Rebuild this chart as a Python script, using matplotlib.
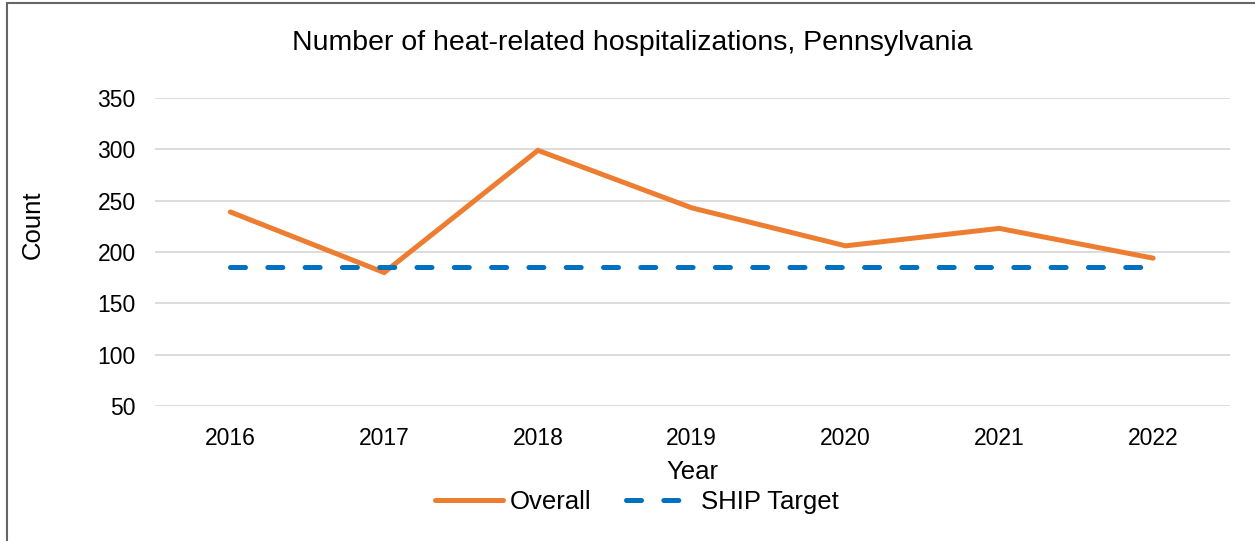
import matplotlib
matplotlib.use('Agg')
import matplotlib.pyplot as plt
from matplotlib.patches import Rectangle

plt.rcParams['font.family'] = ['Liberation Sans', 'DejaVu Sans']

# ------------------------------------------------------

years = ['2016', '2017', '2018', '2019', '2020', '2021', '2022']
overall = [239, 180, 299, 243, 206, 223, 194]
ship_target = [185, 185, 185, 185, 185, 185, 185]

W, H = 1255, 541
fig = plt.figure(figsize=(W / 100, H / 100), dpi=100)
ax = fig.add_axes([155 / W, 1 - 406 / H, 1075 / W, 308 / H])

x = range(len(years))
ax.plot(x, overall, color='#ED7D31', linewidth=3.6, label='Overall',
        solid_capstyle='round', solid_joinstyle='miter')
ax.plot(x, ship_target, color='#0070C0', linewidth=3.6, label='SHIP Target',
        linestyle=(0, (3.0, 4.46)), dash_capstyle='round')

ax.set_xlim(-0.49, len(years) - 0.5)
ax.set_ylim(50, 350)
ax.set_yticks(range(50, 351, 50))
ax.set_xticks(list(x))
ax.set_xticklabels(years)

ax.grid(axis='y', color='#D9D9D9', linewidth=1.3)
ax.set_axisbelow(True)
for s in ax.spines.values():
    s.set_visible(False)
ax.tick_params(length=0, labelsize=16.5, colors='black')
ax.tick_params(axis='x', pad=15)
ax.tick_params(axis='y', pad=14)

ax.set_ylabel('Count', fontsize=18.5, va='center')
ax.yaxis.set_label_coords(-0.1135, 0.588)
ax.set_xlabel('Year', fontsize=18.5, va='center')
ax.xaxis.set_label_coords(0.5, -0.214)

fig.text(632 / W, 1 - 43 / H,
         'Number of heat-related hospitalizations, Pennsylvania',
         fontsize=20.5, ha='center', va='center')

fig.legend(loc='center', bbox_to_anchor=(637 / W, 1 - 502 / H), ncol=2,
           frameon=False, fontsize=18.5, handlelength=2.65, columnspacing=1.35,
           handletextpad=0.27)

# outer chart border
fig.patches.append(Rectangle((7 / W, -0.1), 1.2, 1 - 3 / H + 0.1,
                             transform=fig.transFigure, fill=False,
                             edgecolor='#666666', linewidth=1.5))

fig.savefig('out.png', dpi=100)
